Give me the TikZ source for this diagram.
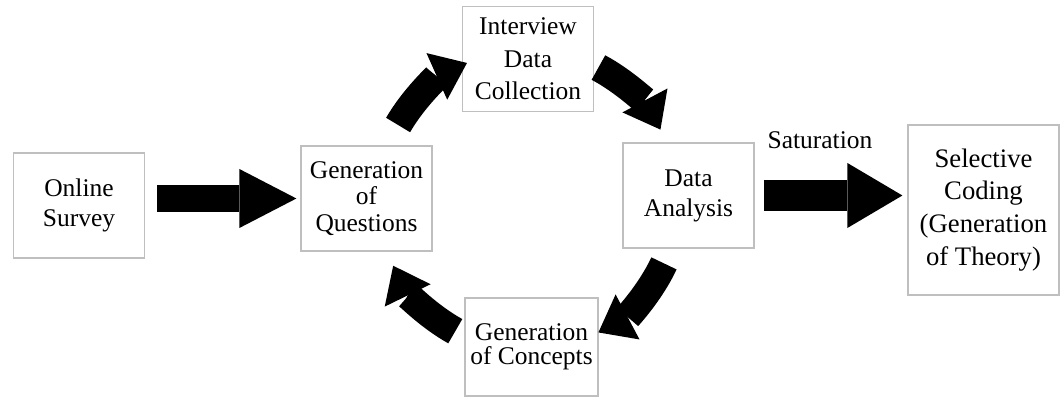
\documentclass[tikz,border=0pt]{standalone}
\usepackage{fontspec}
\setmainfont{Liberation Serif}
\usetikzlibrary{arrows.meta}
\usetikzlibrary{calc}

\tikzset{
	box/.style={draw=black!25, line width=0.7pt, align=center, minimum width=2.62cm, minimum height=2.1cm, inner sep=2pt},
	cycarrow/.style={line width=0.56cm, -{Triangle[length=0.66cm, width=1.02cm, line width=0pt]}},
	blockarrow/.style={line width=0.54cm, -{Triangle[length=1.14cm, width=1.18cm, line width=0pt]}}
}

\begin{document}
\begin{tikzpicture}[font=\fontsize{14.5}{17}\selectfont]
		\useasboundingbox (0,0) rectangle (21.22,7.94);

		\node [box] (survey) at (1.58,3.83) {Online\\Survey};
		\node [box, font=\fontsize{14.5}{15}\selectfont] (questions) at (7.33,3.97) {Generation\\of\\Questions};
		\node [box, font=\fontsize{14.5}{18.4}\selectfont] (interview) at (10.56,6.76) {Interview\\Data\\Collection};
		\node [box] (analysis) at (13.77,4.03) {Data\\Analysis};
		\node [box, minimum width=2.66cm, minimum height=1.96cm, font=\fontsize{14.5}{13.8}\selectfont] (concepts) at (10.63,1.0) {Generation\\of Concepts};
		\node [box, minimum width=3.02cm, minimum height=3.4cm, font=\fontsize{15.2}{18.7}\selectfont] (selective) at (19.67,3.74) {Selective\\Coding\\(Generation\\of Theory)};

		\coordinate (hub) at (10.56,3.94);

		\draw [cycarrow] ($(hub)+(150:3)$) arc (150:114:3);
		\draw [cycarrow] ($(hub)+(62:3)$) arc (62:28:3);
		\draw [cycarrow] ($(hub)+(-25:3)$) arc (-25:-62:3);
		\draw [cycarrow] ($(hub)+(-119:3)$) arc (-119:-154:3);

		\draw [blockarrow, shorten <=0.24cm, shorten >=0.08cm] (survey.east |- questions.west) -- (questions.west);
		\draw [line width=0.62cm, -{Triangle[length=1.1cm, width=1.3cm, line width=0pt]}, shorten <=0.18cm, shorten >=0.1cm] (analysis.east) -- (selective.west |- analysis.east) node [midway, above=0.5cm, xshift=-0.22cm] {Saturation};
	\end{tikzpicture}
\end{document}
